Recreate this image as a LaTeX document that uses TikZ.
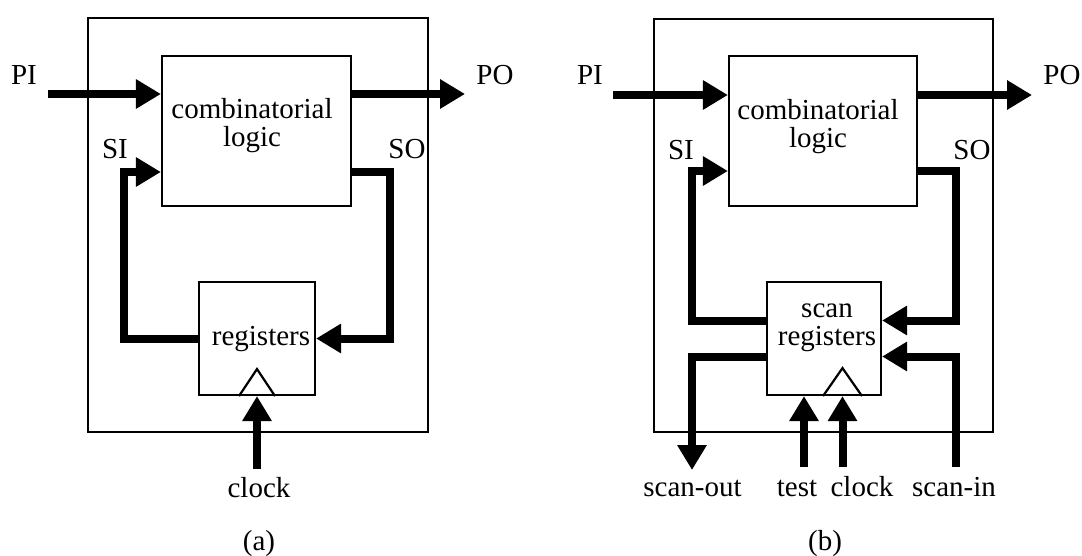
\documentclass[tikz,border=0pt]{standalone}
\usepackage{fontspec}
\setmainfont{Liberation Serif}
\usetikzlibrary{arrows.meta}

\begin{document}
\begin{tikzpicture}[x=0.5pt,y=-0.5pt]
  \tikzstyle{every node}=[font=\fontsize{14.5pt}{14pt}\selectfont, inner sep=0pt]
  \tikzstyle{box}=[draw, line width=1.1pt]
  \tikzstyle{bus}=[line width=4pt, line join=miter, -{Triangle[length=12.5pt,width=14pt]}]
  \fill[white] (0,0) rectangle (1082,556);
  \useasboundingbox (0,0) rectangle (1082,556);

  % (a)
  \node[box, minimum width=170pt, minimum height=207pt] (chipA) at (258,225) {};
  \node[box, minimum width=94.5pt, minimum height=75pt] (clA) at (256.5,131) {};
  \node[align=center, anchor=base] (clAtxt) at (252,147) {combinatorial\\logic};
  \node[box, minimum width=58pt, minimum height=56.5pt] (regA) at (257,338.5) {};
  \node[anchor=base] (regAtxt) at (261,345) {registers};
  \draw[line width=1.1pt] ([xshift=-9pt]regA.south) -- ([yshift=13.5pt]regA.south) -- ([xshift=9pt]regA.south);

  \node[anchor=base] (piAlbl) at (24,85) {PI};
  \node[anchor=base] (poAlbl) at (495,85) {PO};
  \node[anchor=base] (siAlbl) at (115,159) {SI};
  \node[anchor=base] (soAlbl) at (407,159) {SO};
  \node[anchor=base] (clkAlbl) at (259,497) {clock};
  \node[anchor=base] (capA) at (259,550) {(a)};

  \coordinate (piA) at (48,94);
  \coordinate (poA) at (465,94);
  \coordinate (siA) at (124,172);
  \coordinate (soA) at (390,172);
  \coordinate (clkA) at (257,469);

  \draw[bus] (piA) -- (clA.west |- piA);
  \draw[bus] (clA.east |- poA) -- (poA);
  \draw[bus] (regA.west) -| (siA) -- (clA.west |- siA);
  \draw[bus] (clA.east |- soA) -- (soA) |- (regA.east);
  \draw[bus] (clkA) -- (regA.south);

  % (b)
  \node[box, minimum width=169.5pt, minimum height=206.5pt] (chipB) at (823.5,225.5) {};
  \node[box, minimum width=94pt, minimum height=75pt] (clB) at (823,131) {};
  \node[align=center, anchor=base] (clBtxt) at (818,148) {combinatorial\\logic};
  \node[box, minimum width=57pt, minimum height=56.5pt] (regB) at (824,338.5) {};
  \node[align=center, anchor=base] (regBtxt) at (827,345) {scan\\registers};

  \node[anchor=base] (piBlbl) at (590,85) {PI};
  \node[anchor=base] (poBlbl) at (1062,85) {PO};
  \node[anchor=base] (siBlbl) at (681,160) {SI};
  \node[anchor=base] (soBlbl) at (972,160) {SO};
  \node[anchor=base] (soutBlbl) at (692.5,496) {scan-out};
  \node[anchor=base] (testBlbl) at (797,496) {test};
  \node[anchor=base] (clkBlbl) at (862,496) {clock};
  \node[anchor=base] (sinBlbl) at (954,496) {scan-in};
  \node[anchor=base] (capB) at (825,550) {(b)};

  \coordinate (piB) at (613,95);
  \coordinate (poB) at (1032,95);
  \coordinate (siB) at (692,171);
  \coordinate (soB) at (956,171);
  \coordinate (soutB) at (692,470);
  \coordinate (sinB) at (956,467);
  \coordinate (testB) at (804,467);
  \coordinate (clkB) at (842.5,467);

  \draw[line width=1.1pt] ([xshift=-9.75pt]clkB |- regB.south) -- ([yshift=14pt]clkB |- regB.south) -- ([xshift=9.75pt]clkB |- regB.south);

  \draw[bus] (piB) -- (clB.west |- piB);
  \draw[bus] (clB.east |- poB) -- (poB);
  \draw[bus] ([yshift=9pt]regB.west) -| (siB) -- (clB.west |- siB);
  \draw[bus] (clB.east |- soB) -- (soB) |- ([yshift=9pt]regB.east);
  \draw[bus] ([yshift=-9pt]regB.west) -| (soutB);
  \draw[bus] (sinB) |- ([yshift=-9pt]regB.east);
  \draw[bus] (testB) -- (testB |- regB.south);
  \draw[bus] (clkB) -- (clkB |- regB.south);
\end{tikzpicture}
\end{document}
